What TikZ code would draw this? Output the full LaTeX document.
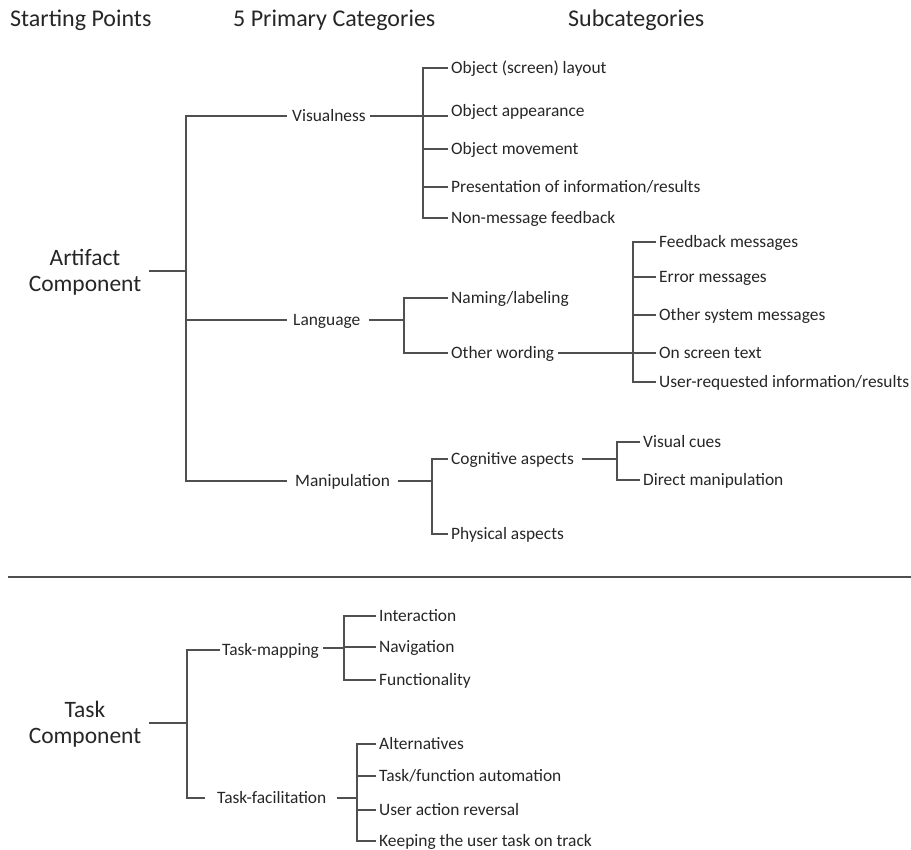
\documentclass[tikz,border=0pt]{standalone}
\usepackage{fontspec}
\setmainfont{Carlito}
\begin{document}
\definecolor{ink}{HTML}{262626}
\definecolor{wire}{HTML}{505050}
\begin{tikzpicture}[x=1pt,y=-1pt,
  lbl/.style={anchor=west, inner sep=0pt, text height=1.32em, text depth=0.2em,
              font=\fontsize{17.4}{20}\selectfont, text=ink},
  head/.style={anchor=west, inner sep=0pt, text height=1.5em, text depth=0.18em,
              font=\fontsize{24}{28}\selectfont, text=ink},
  root/.style={align=center, inner sep=0pt, inner xsep=8pt,
              font=\fontsize{23.5}{26}\selectfont, text=ink},
  tree/.style={draw=wire, line width=1.8pt},
  rule/.style={draw=wire, line width=2.6pt}]
\useasboundingbox (0,0) rectangle (911,850);

% column headings
\node[head] (h1) at (10,20) {Starting Points};
\node[head] (h2) at (233,20) {5 Primary Categories};
\node[head] (h3) at (568,20) {Subcategories};

% ---------------- artifact component ----------------
\node[root] (art) at (85,272.5) {Artifact\\Component};
\coordinate (artJ) at (186,271);

\node[lbl] (vis)  at (292,116) {Visualness};
\node[lbl] (lang) at (293,320) {Language};
\node[lbl] (man)  at (295,481) {Manipulation};

\draw[tree] (art.east |- artJ) -- (artJ);
\draw[tree] ([xshift=-5pt]vis.west) -| (artJ) |- ([xshift=-8pt]man.west);
\draw[tree] (artJ |- lang) -- ([xshift=-6pt]lang.west);

% visualness
\node[lbl] (v1) at (451,68)  {Object (screen) layout};
\node[lbl] (v2) at (451,111) {Object appearance};
\node[lbl] (v3) at (451,149) {Object movement};
\node[lbl] (v4) at (451,187) {Presentation of information/results};
\node[lbl] (v5) at (451,218) {Non-message feedback};
\coordinate (visJ) at (423,116);
\draw[tree] ([xshift=4pt]vis.east) -- ([xshift=-3pt]v2.west |- vis.east);
\draw[tree] ([xshift=-3pt]v1.west) -| (visJ) |- ([xshift=-3pt]v5.west);
\draw[tree] (visJ |- v3) -- ([xshift=-3pt]v3.west);
\draw[tree] (visJ |- v4) -- ([xshift=-3pt]v4.west);

% language
\node[lbl] (l1) at (451,298) {Naming/labeling};
\node[lbl] (l2) at (451,353) {Other wording};
\coordinate (langJ) at (404,320);
\draw[tree] ([xshift=8pt]lang.east) -- (langJ);
\draw[tree] ([xshift=-3pt]l1.west) -| (langJ) |- ([xshift=-3pt]l2.west);

\node[lbl] (w1) at (659,242) {Feedback messages};
\node[lbl] (w2) at (659,277) {Error messages};
\node[lbl] (w3) at (659,315) {Other system messages};
\node[lbl] (w4) at (659,353) {On screen text};
\node[lbl] (w5) at (659,382) {User-requested information/results};
\coordinate (wordJ) at (633,353);
\draw[tree] ([xshift=4pt]l2.east) -- ([xshift=-3pt]w4.west);
\draw[tree] ([xshift=-3pt]w1.west) -| (wordJ) |- ([xshift=-3pt]w5.west);
\draw[tree] (wordJ |- w2) -- ([xshift=-3pt]w2.west);
\draw[tree] (wordJ |- w3) -- ([xshift=-3pt]w3.west);

% manipulation
\node[lbl] (m1) at (451,459) {Cognitive aspects};
\node[lbl] (m2) at (451,534) {Physical aspects};
\coordinate (manJ) at (432,481);
\draw[tree] ([xshift=8pt]man.east) -- (manJ);
\draw[tree] ([xshift=-3pt]m1.west) -| (manJ) |- ([xshift=-3pt]m2.west);

\node[lbl] (c1) at (643,442) {Visual cues};
\node[lbl] (c2) at (643,480) {Direct manipulation};
\coordinate (cogJ) at (617,459);
\draw[tree] ([xshift=8pt]m1.east) -- (cogJ);
\draw[tree] ([xshift=-3pt]c1.west) -| (cogJ) |- ([xshift=-3pt]c2.west);

% separator between the two components
\coordinate (sepL) at (8,577);
\coordinate (sepR) at (911,577);
\draw[rule] (sepL) -- (sepR);

% ---------------- task component ----------------
\node[root] (task) at (85,724.5) {Task\\Component};
\coordinate (taskJ) at (187,723);

\node[lbl] (tm) at (222,650) {Task-mapping};
\node[lbl] (tf) at (217,798) {Task-facilitation};

\draw[tree] (task.east |- taskJ) -- (taskJ);
\draw[tree] ([xshift=-2pt]tm.west) -| (taskJ) |- ([xshift=-12pt]tf.west);

% task-mapping
\node[lbl] (t1) at (379,616) {Interaction};
\node[lbl] (t2) at (379,647) {Navigation};
\node[lbl] (t3) at (379,680) {Functionality};
\coordinate (tmJ) at (344,648);
\draw[tree] ([xshift=4pt,yshift=2pt]tm.east) -- (tmJ);
\draw[tree] ([xshift=-3pt]t1.west) -| (tmJ) |- ([xshift=-3pt]t3.west);
\draw[tree] (tmJ |- t2) -- ([xshift=-3pt]t2.west);

% task-facilitation
\node[lbl] (f1) at (379,744) {Alternatives};
\node[lbl] (f2) at (379,776) {Task/function automation};
\node[lbl] (f3) at (379,810) {User action reversal};
\node[lbl] (f4) at (379,841) {Keeping the user task on track};
\coordinate (tfJ) at (357,798);
\draw[tree] ([xshift=10pt]tf.east) -- (tfJ);
\draw[tree] ([xshift=-3pt]f1.west) -| (tfJ) |- ([xshift=-3pt]f4.west);
\draw[tree] (tfJ |- f2) -- ([xshift=-3pt]f2.west);
\draw[tree] (tfJ |- f3) -- ([xshift=-3pt]f3.west);
\end{tikzpicture}
\end{document}
